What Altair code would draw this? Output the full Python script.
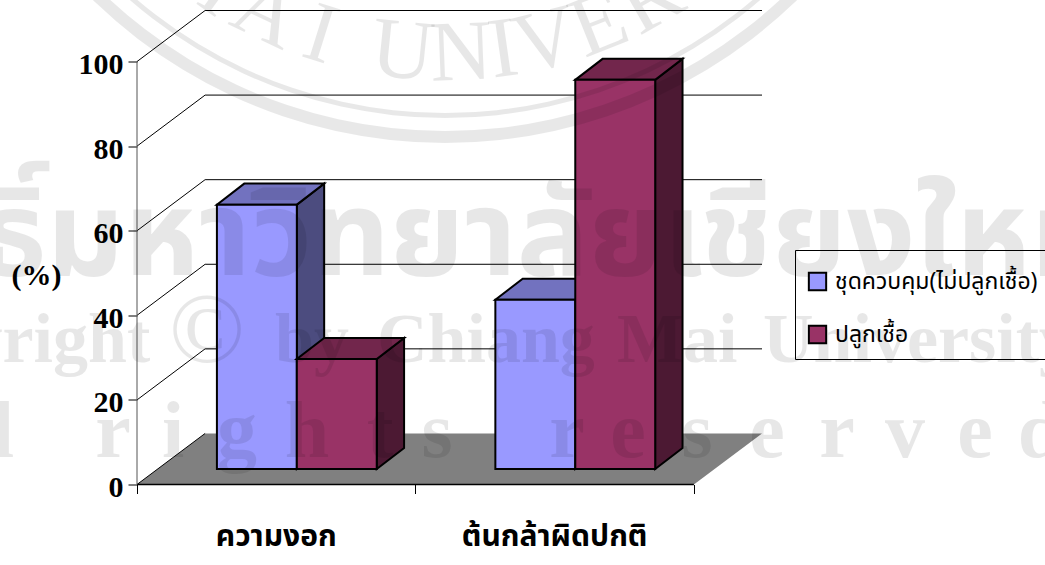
import math
import altair as alt
import pandas as pd

# Chart values
categories = ["ความงอก", "ต้นกล้าผิดปกติ"]
series_names = ["ชุดควบคุม(ไม่ปลูกเชื้อ)", "ปลูกเชื้อ"]
control_values = [62.5, 40]
inoculated_values = [26, 92]
y_ticks = [0, 20, 40, 60, 80, 100]

# Oblique projection, in axis units
WALL_DX = 68 / 278
WALL_DY = 51 / 4.225
BAR_DX = 27.3 / 278
BAR_DY = 21 / 4.225
BAR_BASE = 15.5 / 4.225
BAR_GAP = 0.287
BAR_W = 0.287

FRONT = ["#9999ff", "#993366"]
TOP = ["#7272bf", "#72264c"]
SIDE = ["#4c4c7f", "#4c1933"]

SERIF = "Liberation Serif"
THAI = "Noto Sans Thai, Garuda, Loma, Noto Serif Thai, Liberation Serif, DejaVu Serif"
PAD_L, PAD_T = 137, 10.5
W, H = 625, 474

x_scale = alt.Scale(domain=[0, 2 + WALL_DX], nice=False, zero=False)
y_scale = alt.Scale(domain=[0, 100 + WALL_DY], nice=False, zero=False)
x_enc = alt.X(
    "x:Q", scale=x_scale,
    axis=alt.Axis(values=[0, 1, 2], labels=False, domain=False, grid=False, title=None,
                  tickSize=9, tickColor="black", tickWidth=1),
)
y_enc = alt.Y(
    "y:Q", scale=y_scale,
    axis=alt.Axis(values=y_ticks, domain=False, grid=False, tickSize=9, tickColor="black",
                  tickWidth=1, labelFont=SERIF, labelFontSize=30, labelFontWeight="bold",
                  labelColor="black", labelPadding=5, labelOffset=3, title="(%)", titleAngle=0,
                  titleFont=SERIF, titleFontSize=30, titleFontWeight="bold", titleColor="black",
                  titleX=-101, titleY=265, titleAlign="center", titleBaseline="middle"),
)


def bar_faces(values, s):
    side, top, front = [], [], []
    for c, v in enumerate(values):
        left = c + BAR_GAP + s * BAR_W
        right = left + BAR_W
        high = BAR_BASE + v
        key = f"{s}-{c}"
        side += [
            {"k": key, "x": right, "y": BAR_BASE, "y2": high},
            {"k": key, "x": right + BAR_DX, "y": BAR_BASE + BAR_DY, "y2": high + BAR_DY},
        ]
        top += [
            {"k": key, "x": left, "y": high, "y2": high},
            {"k": key, "x": left + BAR_DX, "y": high, "y2": high + BAR_DY},
            {"k": key, "x": right, "y": high, "y2": high + BAR_DY},
            {"k": key, "x": right + BAR_DX, "y": high + BAR_DY, "y2": high + BAR_DY},
        ]
        front.append({"x": left, "x2": right, "y": high, "y2": BAR_BASE, "series": series_names[s]})
    return pd.DataFrame(side), pd.DataFrame(top), pd.DataFrame(front)


def area_layer(df, fill):
    return alt.Chart(df).mark_area(fill=fill, stroke="black", strokeWidth=2, strokeJoin="miter", opacity=1).encode(
        x=x_enc, y=y_enc, y2="y2:Q", detail="k:N"
    )


# Floor and back wall
floor = alt.Chart(pd.DataFrame([
    {"x": 0, "y": 0, "y2": 0},
    {"x": WALL_DX, "y": 0, "y2": WALL_DY},
    {"x": 2, "y": 0, "y2": WALL_DY},
    {"x": 2 + WALL_DX, "y": WALL_DY, "y2": WALL_DY},
])).mark_area(fill="#808080").encode(x=x_enc, y=y_enc, y2="y2:Q")

floor_edge = alt.Chart(pd.DataFrame([{"x": 0, "x2": 2, "y": 0}])).mark_rule(color="black", strokeWidth=1.5).encode(
    x=x_enc, x2="x2:Q", y=y_enc
)

grid_rows = [{"x": WALL_DX, "x2": 2 + WALL_DX, "y": v + WALL_DY} for v in y_ticks[1:]]
back_grid = alt.Chart(pd.DataFrame(grid_rows)).mark_rule(color="black", strokeWidth=1).encode(
    x=x_enc, x2="x2:Q", y=y_enc
)

diag_rows = []
for v in y_ticks:
    diag_rows += [{"k": v, "x": 0, "y": v}, {"k": v, "x": WALL_DX, "y": v + WALL_DY}]
side_grid = alt.Chart(pd.DataFrame(diag_rows)).mark_line(color="black", strokeWidth=1).encode(
    x=x_enc, y=y_enc, detail="k:N"
)

axis_line = alt.Chart(pd.DataFrame([{"x": 0, "y": 0, "y2": 100}])).mark_rule(color="#555555", strokeWidth=1).encode(
    x=x_enc, y=y_enc, y2="y2:Q"
)

# Bars are painted control first, so the second series sits in front
layers = [floor, floor_edge, back_grid, side_grid, axis_line]
for s, values in enumerate([control_values, inoculated_values]):
    side, top, front = bar_faces(values, s)
    layers.append(area_layer(side, SIDE[s]))
    layers.append(area_layer(top, TOP[s]))
    layers.append(
        alt.Chart(front).mark_bar(stroke="black", strokeWidth=2).encode(
            x=x_enc, x2="x2:Q", y=y_enc, y2="y2:Q",
            fill=alt.Fill("series:N", scale=alt.Scale(domain=series_names, range=FRONT),
                          legend=alt.Legend(
                              orient="none", legendX=795 - PAD_L, legendY=250 - PAD_T,
                              title=" ", titleFontSize=5, titlePadding=4,
                              symbolType="square", symbolSize=300, symbolStrokeColor="black",
                              symbolStrokeWidth=2, labelFont=THAI, labelFontSize=23, labelColor="black",
                              rowPadding=26, labelOffset=6, strokeColor="black", padding=11,
                              labelLimit=300)),
        )
    )

# Category names below the floor
cat_df = pd.DataFrame({"x": [0.5, 1.5], "y": [0, 0], "t": categories})
layers.append(
    alt.Chart(cat_df).mark_text(font=THAI, fontSize=30, fontWeight="bold", color="black", dy=52).encode(
        x=x_enc, y=y_enc, text="t:N"
    )
)

# University stamp printed across the page
STAMP = {"color": "black", "opacity": 0.09}
px_x = alt.X("px:Q", scale=None, axis=None)
px_y = alt.Y("py:Q", scale=None, axis=None)

stamp_thai = pd.DataFrame([{"px": 1108 - PAD_L, "py": 275 - PAD_T, "t": "ลิขสิทธิ์มหาวิทยาลัยเชียงใหม่"}])
layers.append(alt.Chart(stamp_thai).mark_text(font=THAI, fontSize=120, fontWeight="bold", align="right", baseline="alphabetic", **STAMP).encode(
    x=px_x, y=px_y, text="t:N"))

stamp_words = pd.DataFrame([
    {"px": 763 - PAD_L, "py": 362 - PAD_T, "t": "University"},
    {"px": 617 - PAD_L, "py": 362 - PAD_T, "t": "Mai"},
    {"px": 377 - PAD_L, "py": 362 - PAD_T, "t": "Chiang"},
    {"px": 275 - PAD_L, "py": 362 - PAD_T, "t": "by"},
    {"px": -157 - PAD_L, "py": 362 - PAD_T, "t": "Copyright"},
])
layers.append(alt.Chart(stamp_words).mark_text(font=SERIF, fontSize=70, fontWeight="bold", align="left", baseline="alphabetic", **STAMP).encode(
    x=px_x, y=px_y, text="t:N"))

stamp_copy = pd.DataFrame([{"px": 207 - PAD_L, "py": 362 - PAD_T, "t": "©"}])
layers.append(alt.Chart(stamp_copy).mark_text(font=SERIF, fontSize=100, baseline="alphabetic", **STAMP).encode(
    x=px_x, y=px_y, text="t:N"))

spaced_chars = "lrightsreserved"
spaced_x = [3, 113, 173, 237, 307, 380, 437, 567, 628, 697, 767, 837, 905, 975, 1040]
stamp_spaced = pd.DataFrame([{"px": x - PAD_L, "py": 457 - PAD_T, "t": c} for c, x in zip(spaced_chars, spaced_x)])
layers.append(alt.Chart(stamp_spaced).mark_text(font=SERIF, fontSize=80, fontWeight="bold", baseline="alphabetic", **STAMP).encode(
    x=px_x, y=px_y, text="t:N"))

# Circular seal
CX, CY = 445, -362
ring = pd.DataFrame([{"px": CX - PAD_L, "py": CY - PAD_T}])
for inner, outer in [(475, 480), (493, 505)]:
    layers.append(alt.Chart(ring).mark_arc(innerRadius=inner, outerRadius=outer, theta=math.radians(130), theta2=math.radians(230), **STAMP).encode(
        x=px_x, y=px_y))

seal_chars = "MAIUNIVERSITY"
seal_x = [186, 255, 313, 400, 462, 507, 552, 609, 664, 717, 755, 795, 852]
SEAL_R = 442
arc_letters = []
for c, lx in zip(seal_chars, seal_x):
    a = math.asin((lx - CX) / SEAL_R)
    arc_letters.append({
        "px": CX + SEAL_R * math.sin(a) - PAD_L,
        "py": CY + SEAL_R * math.cos(a) - PAD_T,
        "t": c,
        "a": (-math.degrees(a)) % 360,
    })
layers.append(alt.Chart(pd.DataFrame(arc_letters)).mark_text(font=SERIF, fontSize=86, baseline="alphabetic", **STAMP).encode(
    x=px_x, y=px_y, text="t:N", angle=alt.Angle("a:Q", scale=None)))

chart = alt.layer(*layers).properties(
    width=W, height=H, autosize=alt.AutoSizeParams(type="none"),
    padding={"left": PAD_L, "top": PAD_T, "right": 1045 - PAD_L - W, "bottom": 565 - PAD_T - H},
    background="white",
).configure_view(stroke=None)

chart.save("out.html", embed_options={"renderer": "svg", "actions": False})
